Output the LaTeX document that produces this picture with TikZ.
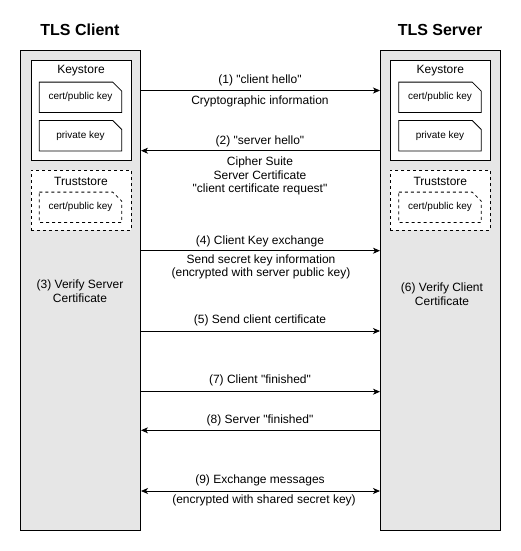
\documentclass[tikz,border=0pt]{standalone}
\usepackage{fontspec}
\setmainfont{Liberation Sans}[Ligatures=TeXOff]
\usetikzlibrary{arrows.meta}
\definecolor{colfill}{HTML}{E6E6E6}
\newcommand\dogear[2][]{\draw[line width=0.8pt,#1] (#2.north west) -- ([xshift=-9pt]#2.north east) -- ([yshift=-9pt]#2.north east) -- (#2.south east) -- (#2.south west) -- cycle;}
\begin{document}
\begin{tikzpicture}[x=1pt,y=-1pt,
  every node/.style={font=\fontsize{12}{13.5}\selectfont, inner sep=0pt, align=center},
  title/.style={font=\fontsize{16}{19}\selectfont\bfseries},
  column/.style={draw=black, fill=colfill, line width=1pt, minimum width=120pt, minimum height=479pt},
  store/.style={draw=black, fill=white, line width=1pt, minimum width=100pt, minimum height=100pt},
  tstore/.style={draw=black, dashed, fill=white, line width=0.8pt, minimum width=100pt, minimum height=60pt},
  notebox/.style={minimum width=82pt, minimum height=30pt, font=\fontsize{10}{12}\selectfont},
  msg/.style={-{Stealth[length=7pt,width=6pt,inset=2pt]}, line width=0.8pt},
  bimsg/.style={{Stealth[length=7pt,width=6pt,inset=2pt]}-{Stealth[length=7pt,width=6pt,inset=2pt]}, line width=0.8pt}
]
\useasboundingbox (0,0) rectangle (521,551);
% titles
\node[title] (ctitle) at (80,30) {TLS Client};
\node[title] (stitle) at (440,30) {TLS Server};
% columns
\node[column] (client) at (80.5,290.5) {};
\node[column] (server) at (440.5,290.5) {};
% client stores
\node[store] (cks) at (81,110.3) {};
\node (cksl) at (81,71) {Keystore};
\node[notebox] (ccert) at (80.5,97.3) {cert/public key};
\node[notebox] (cpriv) at (80.5,135.7) {private key};
\dogear{ccert}
\dogear{cpriv}
\node[tstore] (cts) at (81,200.2) {};
\node (ctsl) at (81,181) {Truststore};
\node[notebox] (ctcert) at (80.5,207.3) {cert/public key};
\dogear[dashed]{ctcert}
% server stores
\node[store] (sks) at (440.3,110.3) {};
\node (sksl) at (440.3,71) {Keystore};
\node[notebox] (scert) at (440,97.3) {cert/public key};
\node[notebox] (spriv) at (440,135.7) {private key};
\dogear{scert}
\dogear{spriv}
\node[tstore] (sts) at (440.3,200.2) {};
\node (stsl) at (440.3,181) {Truststore};
\node[notebox] (stcert) at (440,207.3) {cert/public key};
\dogear[dashed]{stcert}
% verify texts
\node (v3) at (80,291) {(3) Verify Server\\Certificate};
\node (v6) at (442,294) {(6) Verify Client\\Certificate};
% messages
\draw[msg] (client.east |- 0,90.5) -- (server.west |- 0,90.5);
\node (m1) at (260,80.7) {(1) "client hello"};
\node (m1b) at (260,101) {Cryptographic information};
\draw[msg] (server.west |- 0,150.7) -- (client.east |- 0,150.7);
\node (m2) at (260,141) {(2) "server hello"};
\node (m2b) at (260,176) {Cipher Suite\\Server Certificate\\"client certificate request"};
\draw[msg] (client.east |- 0,250.7) -- (server.west |- 0,250.7);
\node (m4) at (260,241) {(4) Client Key exchange};
\node (m4b) at (261,267) {Send secret key information\\(encrypted with server public key)};
\draw[msg] (client.east |- 0,331) -- (server.west |- 0,331);
\node (m5) at (260,320.7) {(5) Send client certificate};
\draw[msg] (client.east |- 0,391.7) -- (server.west |- 0,391.7);
\node (m7) at (260,380.7) {(7) Client "finished"};
\draw[msg] (server.west |- 0,430.3) -- (client.east |- 0,430.3);
\node (m8) at (260,420.7) {(8) Server "finished"};
\draw[bimsg] (client.east |- 0,491) -- (server.west |- 0,491);
\node (m9) at (260,480.7) {(9) Exchange messages};
\node (m9b) at (264,500.7) {(encrypted with shared secret key)};
\end{tikzpicture}
\end{document}
